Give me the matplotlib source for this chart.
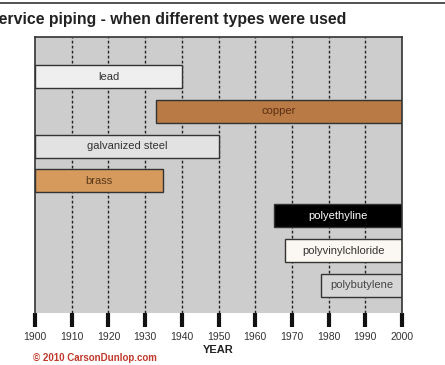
import matplotlib.pyplot as plt
from matplotlib.lines import Line2D

plt.rcParams['font.family'] = ['Liberation Sans', 'DejaVu Sans']

# pipe materials, top to bottom, with the years each was in use
materials = ['lead', 'copper', 'galvanized steel', 'brass',
             'polyethyline', 'polyvinylchloride', 'polybutylene']
start = [1900, 1933, 1900, 1900, 1965, 1968, 1978]
end = [1940, 2000, 1950, 1935, 2000, 2000, 2000]
fills = ['#efefef', '#b97a45', '#e2e2e2', '#d69a5c', '#000000', '#fbf7f2', '#d6d6d6']
text_cols = ['#333333', '#5a2e12', '#333333', '#5a3a1a', '#ffffff', '#333333', '#444444']
years = list(range(1900, 2001, 10))

fig = plt.figure(figsize=(4.45, 3.65), dpi=100)
ax = fig.add_axes([0.0787, 0.1425, 0.8247, 0.7562])
ax.set_facecolor('#cdcdcd')

# dotted decade lines behind the bars
for yr in years[1:-1]:
    ax.axvline(yr, color='#222222', lw=1.0, ls=(0, (2, 1.6)), zorder=1)

rows = list(range(len(materials)))
ax.barh(rows, [e - s for s, e in zip(start, end)], left=start, height=0.66,
        color=fills, edgecolor='#333333', linewidth=1.0, zorder=2)
for r, name, s, e, tc in zip(rows, materials, start, end, text_cols):
    ax.text((s + e) / 2, r, name, ha='center', va='center', fontsize=8,
            color=tc, zorder=3)

ax.set_xlim(1900, 2000)
ax.set_ylim(6.79, -1.135)
ax.set_yticks([])
ax.set_xticks(years)
ax.set_xticklabels([str(y) for y in years], fontsize=7.5, color='#333333')
ax.tick_params(axis='x', length=10, width=3, color='#111111', pad=4,
               direction='out')
for side in ['left', 'right', 'top']:
    ax.spines[side].set_color('#333333')
    ax.spines[side].set_linewidth(1.2)
ax.spines['bottom'].set_visible(False)
ax.set_xlabel('YEAR', fontsize=8, fontweight='bold', color='#222222', labelpad=2)

fig.text(-0.027, 0.947, 'Service piping - when different types were used',
         fontsize=11.4, fontweight='bold', color='#222222', ha='left', va='center')
fig.text(0.074, 0.02, '© 2010 CarsonDunlop.com', fontsize=7, fontweight='bold',
         color='#c0392b', ha='left', va='center')
fig.add_artist(Line2D([0, 1], [1 - 2.5 / 365] * 2, color='#333333', lw=1.2,
                      transform=fig.transFigure))

fig.savefig('out.png', dpi=100)
